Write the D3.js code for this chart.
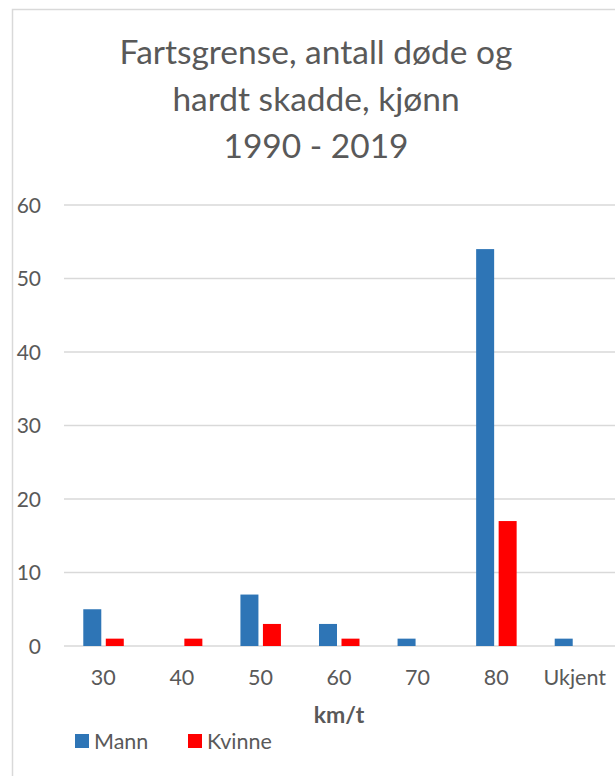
<!DOCTYPE html>
<html>
<head>
<meta charset="utf-8">
<script src="https://cdn.jsdelivr.net/npm/d3@7"></script>
<style>
  body { margin: 0; background: #fff; }
  svg { display: block; }
</style>
</head>
<body>
<svg></svg>
<script>
const width = 615;
const height = 776;

// Data
const categories = ["30", "40", "50", "60", "70", "80", "Ukjent"];
const mann = [5, 0, 7, 3, 1, 54, 1];
const kvinne = [1, 1, 3, 1, 0, 17, 0];
const seriesNames = ["Mann", "Kvinne"];
const seriesColors = ["#2e75b6", "#ff0000"];
const yTicks = [0, 10, 20, 30, 40, 50, 60];
const titleLines = ["Fartsgrense, antall døde og", "hardt skadde, kjønn", "1990 - 2019"];

const font = "Lato, 'Open Sans', sans-serif";
const textColor = "#595959";

const svg = d3.select("svg")
    .attr("width", width)
    .attr("height", height);

// Chart area border (runs off the right and bottom edges)
svg.append("rect")
    .attr("x", 12.5)
    .attr("y", 9.5)
    .attr("width", 700)
    .attr("height", 900)
    .attr("fill", "#fff")
    .attr("stroke", "#d9d9d9")
    .attr("stroke-width", 1.5);

// Title
svg.append("g")
    .selectAll("text")
    .data(titleLines)
    .join("text")
    .attr("x", 316)
    .attr("y", (d, i) => 64 + i * 47)
    .attr("text-anchor", "middle")
    .attr("font-family", font)
    .attr("font-size", "33.5px")
    .attr("fill", textColor)
    .text(d => d);

const plot = { left: 64, right: 614, top: 205, bottom: 646 };

const x = d3.scaleBand()
    .domain(categories)
    .range([plot.left, plot.right]);

const y = d3.scaleLinear()
    .domain([0, 60])
    .range([plot.bottom, plot.top]);

// Gridlines
svg.append("g")
    .selectAll("line")
    .data(yTicks)
    .join("line")
    .attr("x1", plot.left)
    .attr("x2", plot.right + 2)
    .attr("y1", d => y(d))
    .attr("y2", d => y(d))
    .attr("stroke", "#d9d9d9")
    .attr("stroke-width", 1.5);

// Y labels
svg.append("g")
    .selectAll("text")
    .data(yTicks)
    .join("text")
    .attr("x", 41)
    .attr("y", d => y(d))
    .attr("dy", "0.36em")
    .attr("text-anchor", "end")
    .attr("font-family", font)
    .attr("font-size", "21px")
    .attr("fill", textColor)
    .text(d => d);

// Bars
const barW = 18;
const offsets = [-11, 11.5];
const series = [mann, kvinne];

series.forEach(function(values, s) {
    svg.append("g")
        .selectAll("rect")
        .data(values)
        .join("rect")
        .attr("x", (d, i) => x(categories[i]) + x.bandwidth() / 2 + offsets[s] - barW / 2)
        .attr("y", d => y(d))
        .attr("width", barW)
        .attr("height", d => y(0) - y(d))
        .attr("fill", seriesColors[s]);
});

// X labels
svg.append("g")
    .selectAll("text")
    .data(categories)
    .join("text")
    .attr("x", d => x(d) + x.bandwidth() / 2)
    .attr("y", 677)
    .attr("dy", "0.36em")
    .attr("text-anchor", "middle")
    .attr("font-family", font)
    .attr("font-size", "21.5px")
    .attr("fill", textColor)
    .text(d => d);

// X axis title
svg.append("text")
    .attr("x", 339)
    .attr("y", 723)
    .attr("text-anchor", "middle")
    .attr("font-family", font)
    .attr("font-size", "23px")
    .attr("font-weight", "bold")
    .attr("fill", textColor)
    .text("km/t");

// Legend
const legend = svg.append("g")
    .selectAll("g")
    .data(seriesNames)
    .join("g")
    .attr("transform", (d, i) => `translate(${75 + i * 113}, 734)`);

legend.append("rect")
    .attr("width", 14)
    .attr("height", 14)
    .attr("fill", (d, i) => seriesColors[i]);

legend.append("text")
    .attr("x", 19)
    .attr("y", 7)
    .attr("dy", "0.36em")
    .attr("font-family", font)
    .attr("font-size", "21.5px")
    .attr("fill", textColor)
    .text(d => d);
</script>
</body>
</html>
